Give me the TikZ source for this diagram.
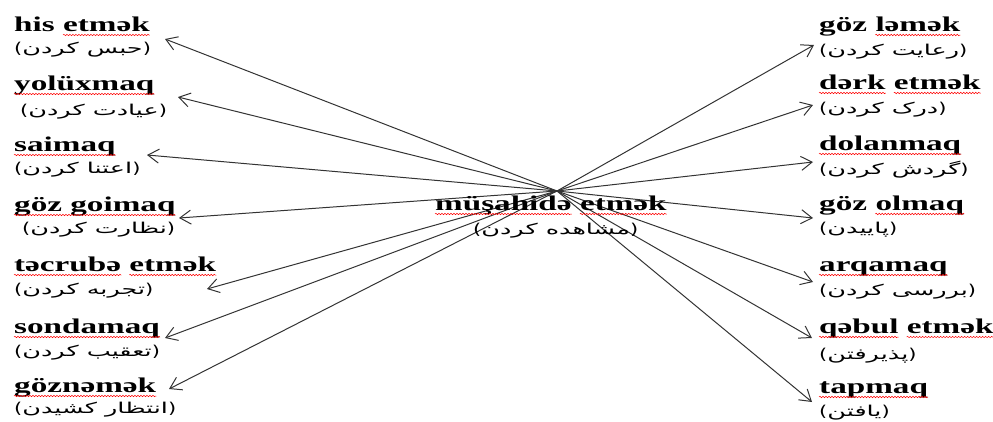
\documentclass[tikz,border=0pt]{standalone}
\usepackage{fontspec}
\usetikzlibrary{arrows.meta,decorations.pathmorphing}
\TeXXeTstate=1
\newfontfamily\azfont[FakeStretch=1.58]{Liberation Serif}
\newfontfamily\fafont[Script=Arabic,FakeStretch=1.7]{DejaVu Sans}
\newfontfamily\faparenfont[FakeStretch=1.4]{DejaVu Sans}
\newcommand\azwave[1]{\draw[wav] ([yshift=-4pt]#1.base west) -- ([yshift=-4pt]#1.base east);}
\newcommand\fatext[1]{{\faparenfont(}\beginR #1\endR{\faparenfont)}}
\tikzset{
  az/.style={font=\azfont\bfseries\fontsize{21}{21}\selectfont, inner sep=0pt, anchor=base west},
  fa/.style={font=\fafont\fontsize{15}{15}\selectfont, inner sep=0pt, anchor=west},
  wav/.style={draw=red, line width=0.5pt, decorate, decoration={snake, amplitude=0.7pt, segment length=3pt}},
  arr/.style={draw=black!80, line width=1pt, -{Straight Barb[length=11pt,width=14pt]}}
}
\begin{document}
\begin{tikzpicture}[x=1pt,y=-1pt]
\useasboundingbox (0,0) rectangle (993,421);
% hub and arrow ends
\coordinate (hub) at (557,191);
\coordinate (L1) at (165,39);
\coordinate (L2) at (178,97);
\coordinate (L3) at (147,155);
\coordinate (L4) at (179,218);
\coordinate (L5) at (207,289);
\coordinate (L6) at (165,338);
\coordinate (L7) at (169,389);
\coordinate (R1) at (814,45);
\coordinate (R2) at (813,105);
\coordinate (R3) at (813,162);
\coordinate (R4) at (813,218);
\coordinate (R5) at (813,282);
\coordinate (R6) at (812,338);
\coordinate (R7) at (812,402);
\foreach \t in {L1,L2,L3,L4,L5,L6,L7,R1,R2,R3,R4,R5,R6,R7}
  \draw[arr] (hub) -- (\t);

% left column
\node[az] (a1) at (14,31) {his};
\node[az] (a1b) at ([xshift=8pt]a1.base east) {etmək};
\node[fa] (p1) at (14,50) {\fatext{حبس کردن}};
\node[az] (a2) at (14,90) {yolüxmaq};
\node[fa] (p2) at (20,112) {\fatext{عیادت کردن}};
\node[az] (a3) at (14,151) {saimaq};
\node[fa] (p3) at (14,170) {\fatext{اعتنا کردن}};
\node[az] (a4) at (14,211) {göz goimaq};
\node[fa] (p4) at (22,230) {\fatext{نظارت کردن}};
\node[az] (a5) at (14,271) {təcrubə};
\node[az] (a5b) at ([xshift=8pt]a5.base east) {etmək};
\node[fa] (p5) at (14,291) {\fatext{تجربه کردن}};
\node[az] (a6) at (14,333) {sondamaq};
\node[fa] (p6) at (14,353) {\fatext{تعقیب کردن}};
\node[az] (a7) at (14,392) {göznəmək};
\node[fa] (p7) at (14,410) {\fatext{انتظار کشیدن}};

% right column
\node[az] (b1) at (819,31) {göz};
\node[az] (b1b) at ([xshift=8pt]b1.base east) {ləmək};
\node[fa] (q1) at (819,52) {\fatext{رعایت کردن}};
\node[az] (b2) at (819,89) {dərk};
\node[az] (b2b) at ([xshift=8pt]b2.base east) {etmək};
\node[fa] (q2) at (819,110) {\fatext{درک کردن}};
\node[az] (b3) at (819,150) {dolanmaq};
\node[fa] (q3) at (819,170) {\fatext{گردش کردن}};
\node[az] (b4) at (819,210) {göz};
\node[az] (b4b) at ([xshift=8pt]b4.base east) {olmaq};
\node[fa] (q4) at (819,230) {\fatext{پاییدن}};
\node[az] (b5) at (819,271) {arqamaq};
\node[fa] (q5) at (819,292) {\fatext{بررسی کردن}};
\node[az] (b6) at (819,333) {qəbul};
\node[az] (b6b) at ([xshift=8pt]b6.base east) {etmək};
\node[fa] (q6) at (819,356) {\fatext{پذیرفتن}};
\node[az] (b7) at (819,393) {tapmaq};
\node[fa] (q7) at (819,413) {\fatext{یافتن}};

% centre
\node[az] (c1) at (435,210) {müşahidə};
\node[az] (c1b) at ([xshift=8pt]c1.base east) {etmək};
\node[fa] (cp) at (473,231) {\fatext{مشاهده کردن}};

% spell-check underlines
\azwave{a1b}\azwave{a2}\azwave{a3}\azwave{a4}\azwave{a5}\azwave{a5b}\azwave{a6}\azwave{a7}
\azwave{b1b}\azwave{b2}\azwave{b2b}\azwave{b3}\azwave{b4b}\azwave{b5}\azwave{b6}\azwave{b6b}\azwave{b7}
\azwave{c1}\azwave{c1b}
\end{tikzpicture}
\end{document}
